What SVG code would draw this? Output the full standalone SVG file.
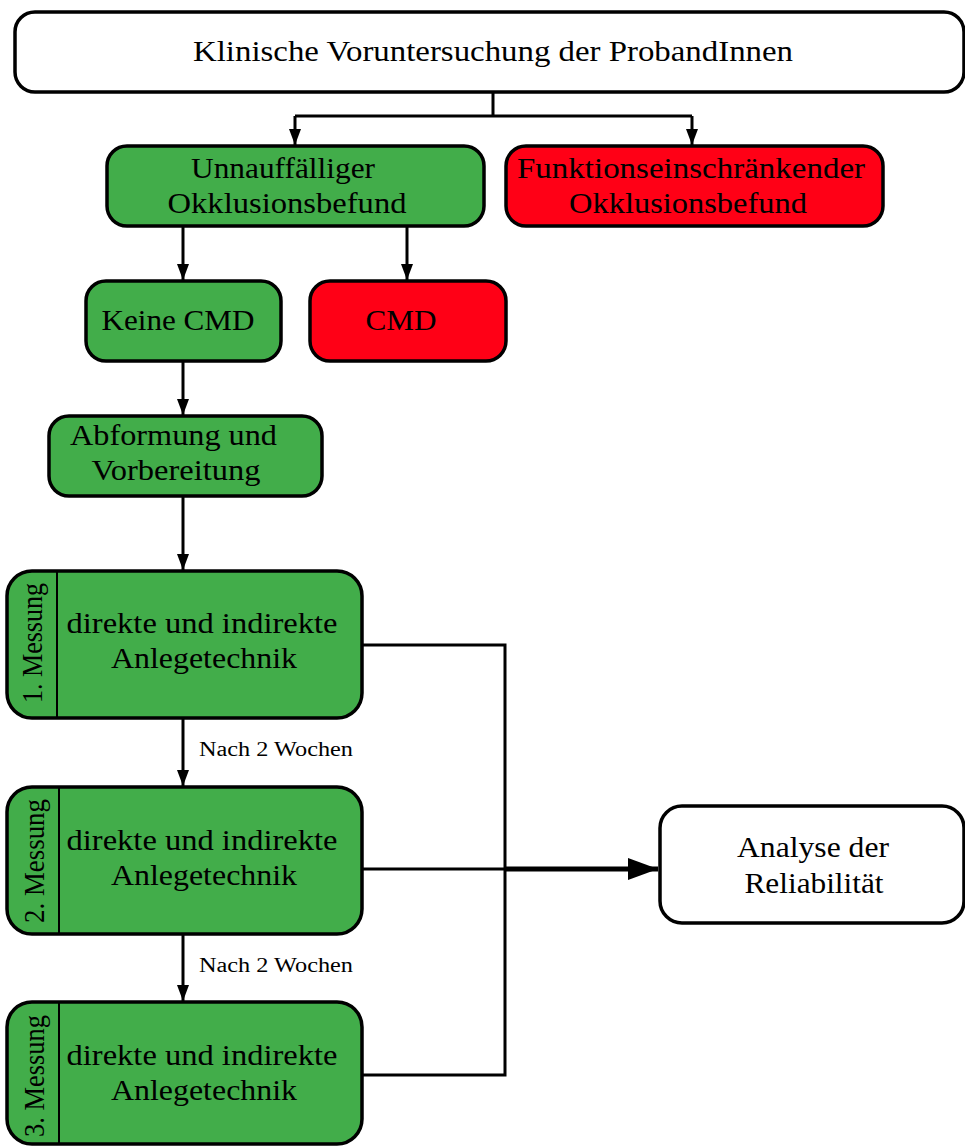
<svg xmlns="http://www.w3.org/2000/svg" width="965" height="1146" viewBox="0 0 965 1146">
<style>
.box{stroke:#000;stroke-width:3.5}
.w{fill:#fff}
.g{fill:#42ad4a}
.r{fill:#ff0016}
.t{font-family:"Liberation Serif","Times New Roman",serif;font-size:29px;fill:#000;text-anchor:middle}
.s{font-family:"Liberation Serif","Times New Roman",serif;font-size:20px;fill:#000}
.c{fill:none;stroke:#000;stroke-width:3}
.div{stroke:#000;stroke-width:2}
</style>
<defs>
<marker id="ah" viewBox="0 0 16 12" refX="16" refY="6" markerWidth="16" markerHeight="12" markerUnits="userSpaceOnUse" orient="auto">
<path d="M0,0 L16,6 L0,12 z" fill="#000"/>
</marker>
<marker id="big" viewBox="0 0 30 22" refX="30" refY="11" markerWidth="30" markerHeight="22" markerUnits="userSpaceOnUse" orient="auto">
<path d="M0,0 L30,11 L0,22 z" fill="#000"/>
</marker>
</defs>
<g id="connectors">
<path class="c" d="M493,92 V116 M295,116 H692"/>
<path class="c" d="M295,116 V145" marker-end="url(#ah)"/>
<path class="c" d="M692,116 V145" marker-end="url(#ah)"/>
<path class="c" d="M183,226 V280" marker-end="url(#ah)"/>
<path class="c" d="M407,226 V280" marker-end="url(#ah)"/>
<path class="c" d="M183,361 V415" marker-end="url(#ah)"/>
<path class="c" d="M183,496 V570" marker-end="url(#ah)"/>
<path class="c" d="M183,718 V786" marker-end="url(#ah)"/>
<text class="s" x="199" y="756" textLength="154" lengthAdjust="spacingAndGlyphs">Nach 2 Wochen</text>
<path class="c" d="M183,934 V1001" marker-end="url(#ah)"/>
<text class="s" x="199" y="972" textLength="154" lengthAdjust="spacingAndGlyphs">Nach 2 Wochen</text>
<path class="c" d="M362,645 H505 V1075 H362"/>
<path class="c" d="M362,869 H505"/>
<path class="c" style="stroke-width:5" d="M505,869 H658" marker-end="url(#big)"/>
</g>
<g id="n-klinisch">
<rect class="box w" x="15" y="12" width="949" height="80" rx="20"/>
<text class="t" x="493" y="61" textLength="600" lengthAdjust="spacingAndGlyphs">Klinische Voruntersuchung der ProbandInnen</text>
</g>
<g id="n-unauffaellig">
<rect class="box g" x="107" y="146" width="377" height="80" rx="20"/>
<text class="t" x="283" y="178" textLength="184" lengthAdjust="spacingAndGlyphs">Unnauffälliger</text>
<text class="t" x="287" y="213" textLength="239" lengthAdjust="spacingAndGlyphs">Okklusionsbefund</text>
</g>
<g id="n-funktion">
<rect class="box r" x="506" y="146" width="377" height="80" rx="20"/>
<text class="t" x="691" y="178" textLength="348" lengthAdjust="spacingAndGlyphs">Funktionseinschränkender</text>
<text class="t" x="688" y="213" textLength="238" lengthAdjust="spacingAndGlyphs">Okklusionsbefund</text>
</g>
<g id="n-keinecmd">
<rect class="box g" x="86" y="281" width="195" height="80" rx="20"/>
<text class="t" x="178" y="330" textLength="153" lengthAdjust="spacingAndGlyphs">Keine CMD</text>
</g>
<g id="n-cmd">
<rect class="box r" x="310" y="281" width="196" height="80" rx="20"/>
<text class="t" x="401" y="330" textLength="71" lengthAdjust="spacingAndGlyphs">CMD</text>
</g>
<g id="n-abformung">
<rect class="box g" x="49" y="416" width="273" height="80" rx="20"/>
<text class="t" x="173.5" y="445" textLength="207" lengthAdjust="spacingAndGlyphs">Abformung und</text>
<text class="t" x="176" y="480" textLength="169" lengthAdjust="spacingAndGlyphs">Vorbereitung</text>
</g>
<g id="n-messung1">
<rect class="box g" x="7" y="571" width="355" height="147" rx="25"/>
<line class="div" x1="57" y1="571" x2="57" y2="718"/>
<text class="t" transform="translate(42,643) rotate(-90)" textLength="120" lengthAdjust="spacingAndGlyphs">1. Messung</text>
<text class="t" x="202" y="633" textLength="271" lengthAdjust="spacingAndGlyphs">direkte und indirekte</text>
<text class="t" x="204" y="668" textLength="186" lengthAdjust="spacingAndGlyphs">Anlegetechnik</text>
</g>
<g id="n-messung2">
<rect class="box g" x="7" y="787" width="355" height="147" rx="25"/>
<line class="div" x1="59" y1="787" x2="59" y2="934"/>
<text class="t" transform="translate(44,861) rotate(-90)" textLength="124" lengthAdjust="spacingAndGlyphs">2. Messung</text>
<text class="t" x="202" y="850" textLength="271" lengthAdjust="spacingAndGlyphs">direkte und indirekte</text>
<text class="t" x="204" y="885" textLength="186" lengthAdjust="spacingAndGlyphs">Anlegetechnik</text>
</g>
<g id="n-messung3">
<rect class="box g" x="7" y="1002" width="355" height="142" rx="25"/>
<line class="div" x1="59" y1="1002" x2="59" y2="1144"/>
<text class="t" transform="translate(44,1076) rotate(-90)" textLength="122" lengthAdjust="spacingAndGlyphs">3. Messung</text>
<text class="t" x="202" y="1065" textLength="271" lengthAdjust="spacingAndGlyphs">direkte und indirekte</text>
<text class="t" x="204" y="1100" textLength="186" lengthAdjust="spacingAndGlyphs">Anlegetechnik</text>
</g>
<g id="n-analyse">
<rect class="box w" x="660" y="806" width="304" height="117" rx="22"/>
<text class="t" x="813" y="857" textLength="152" lengthAdjust="spacingAndGlyphs">Analyse der</text>
<text class="t" x="814" y="893" textLength="139" lengthAdjust="spacingAndGlyphs">Reliabilität</text>
</g>
</svg>
